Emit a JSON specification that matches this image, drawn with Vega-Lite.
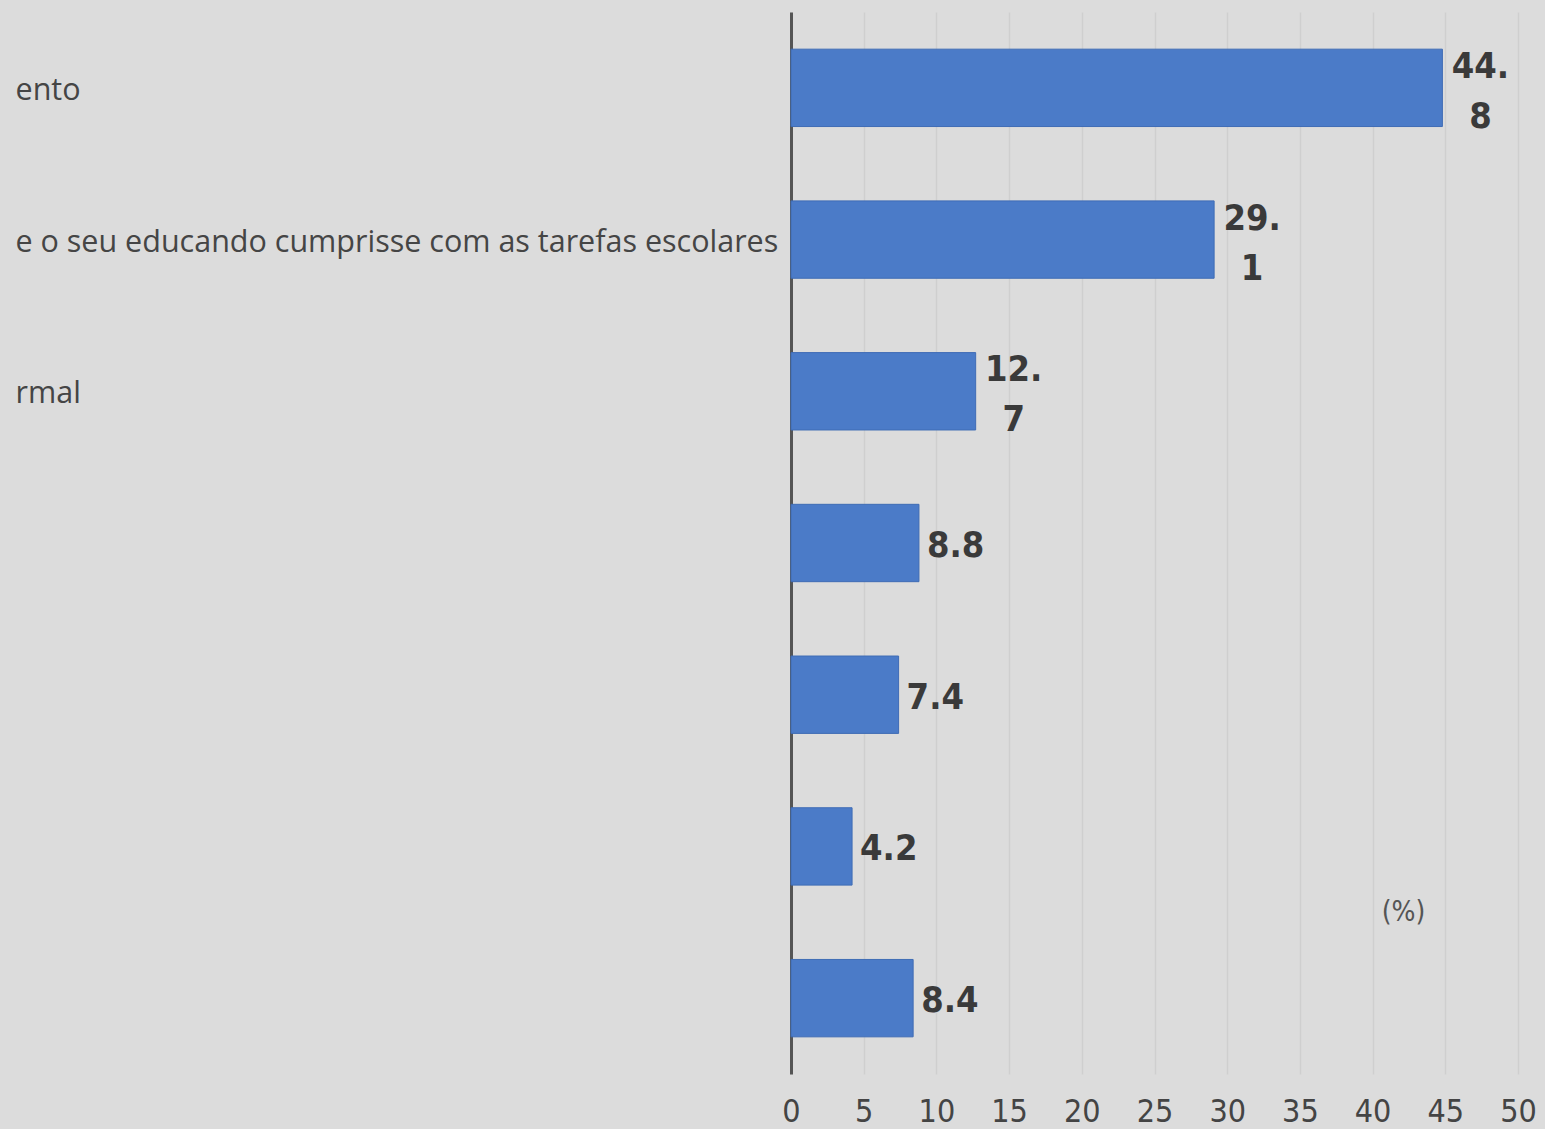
{
  "$schema": "https://vega.github.io/schema/vega-lite/v6.json",
  "autosize": {"type": "none"},
  "padding": {"left": 791, "top": 12, "right": 27, "bottom": 55},
  "width": 727,
  "height": 1062,
  "background": "#dcdcdc",
  "config": {"view": {"stroke": null}, "font": "Liberation Sans Narrow, DejaVu Sans Condensed, Open Sans"},
  "data": {"values": [
    {"cat": "ento", "v": 44.8},
    {"cat": "e o seu educando cumprisse com as tarefas escolares", "v": 29.1},
    {"cat": "rmal", "v": 12.7},
    {"cat": " ", "v": 8.8},
    {"cat": "  ", "v": 7.4},
    {"cat": "   ", "v": 4.2},
    {"cat": "    ", "v": 8.4}
  ]},
  "transform": [
    {"calculate": "format(datum.v, '.1f')", "as": "s"},
    {"calculate": "datum.v >= 10 ? [slice(datum.s, 0, 3), slice(datum.s, 3)] : datum.s", "as": "lab"}
  ],
  "encoding": {
    "y": {"field": "cat", "type": "nominal", "sort": null,
      "scale": {"paddingInner": 0.49, "paddingOuter": 0.245},
      "axis": {"title": null, "ticks": false, "domainColor": "#555555", "domainWidth": 3,
        "labelAlign": "left", "labelPadding": 776, "labelFontSize": 30.5, "labelColor": "#454545",
        "labelOffset": 3, "labelLimit": 1000, "labelFont": "Open Sans"}},
    "x": {"field": "v", "type": "quantitative",
      "scale": {"domain": [0, 50], "nice": false},
      "axis": {"values": [0,5,10,15,20,25,30,35,40,45,50], "domain": false, "ticks": false,
        "labelFlush": false,
        "labelPadding": 22, "labelFontSize": 32, "labelColor": "#444444",
        "gridColor": "#cfcfcf", "gridWidth": 1.5,
        "title": "(%)", "titleFontSize": 28, "titleFontWeight": "normal", "titleColor": "#555555",
        "titleX": 612, "titleY": -162, "titleAlign": "center", "titleBaseline": "middle"}}
  },
  "layer": [
    {"mark": {"type": "bar", "color": "#4b7bc8", "stroke": "#3f6cb5", "strokeWidth": 1}},
    {"transform": [{"filter": "datum.v < 10"}],
      "mark": {"type": "text", "align": "left", "baseline": "middle", "dx": 8, "dy": 3, "fontSize": 36, "fontWeight": "bold", "color": "#3a3a3a"},
      "encoding": {"text": {"field": "lab"}}},
    {"transform": [{"filter": "datum.v >= 10"}],
      "mark": {"type": "text", "align": "center", "baseline": "middle", "dx": 38, "dy": -21, "fontSize": 36, "fontWeight": "bold", "color": "#3a3a3a", "lineHeight": 50},
      "encoding": {"text": {"field": "lab"}}}
  ]
}
